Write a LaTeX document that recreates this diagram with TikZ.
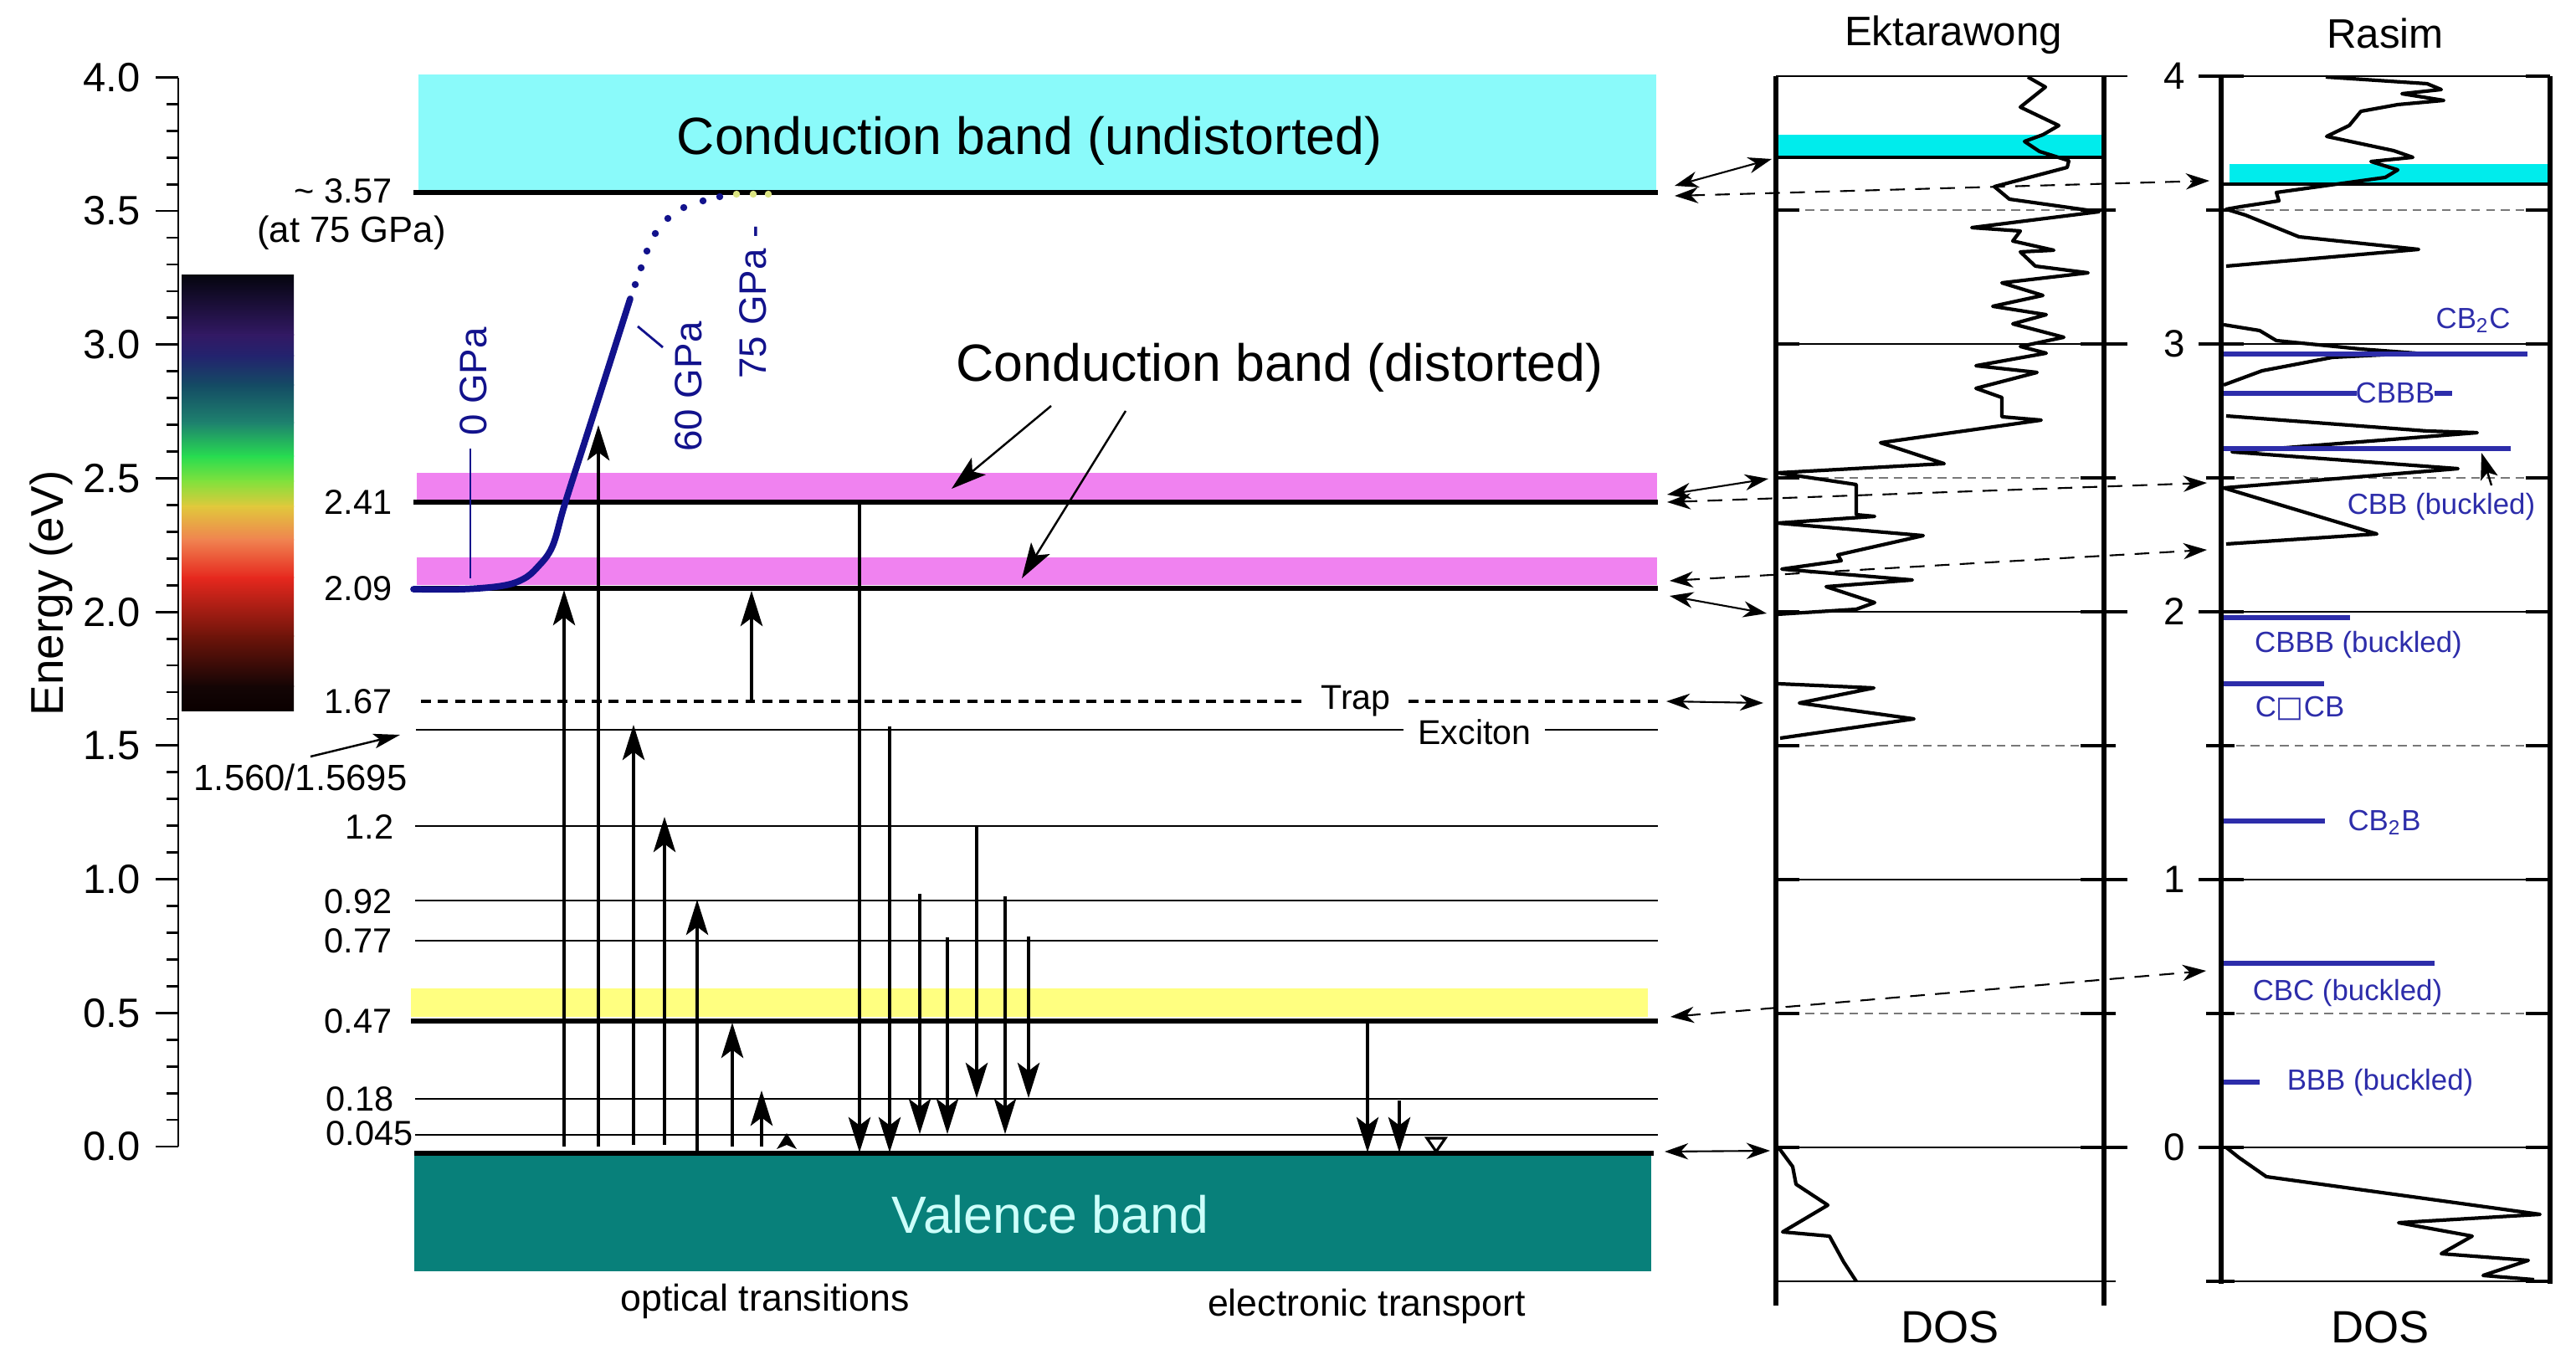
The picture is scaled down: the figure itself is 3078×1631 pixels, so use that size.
\documentclass[tikz,border=0pt]{standalone}
\usepackage{fontspec}
\setmainfont{Liberation Sans}
\newfontfamily\djv{DejaVu Sans}
\usetikzlibrary{arrows.meta}
\definecolor{cyanM}{RGB}{138,250,250}
\definecolor{cyanR}{RGB}{0,236,236}
\definecolor{pinkB}{RGB}{240,130,240}
\definecolor{yelB}{RGB}{255,255,128}
\definecolor{tealB}{RGB}{8,128,122}
\definecolor{valT}{RGB}{205,255,250}
\definecolor{navyC}{RGB}{18,18,140}
\definecolor{blueL}{RGB}{45,45,170}
\definecolor{dotY}{RGB}{220,228,130}
\definecolor{gridG}{RGB}{120,120,120}
\definecolor{cb0}{RGB}{5,5,15}
\definecolor{cb1}{RGB}{50,25,100}
\definecolor{cb2}{RGB}{35,35,110}
\definecolor{cb3}{RGB}{20,75,100}
\definecolor{cb4}{RGB}{30,130,110}
\definecolor{cb5}{RGB}{40,220,80}
\definecolor{cb6}{RGB}{130,225,60}
\definecolor{cb7}{RGB}{225,200,60}
\definecolor{cb8}{RGB}{240,130,80}
\definecolor{cb9}{RGB}{230,40,30}
\definecolor{cb10}{RGB}{110,20,10}
\definecolor{cb11}{RGB}{20,5,5}
\definecolor{cb12}{RGB}{10,0,0}
\newcommand{\myfs}[1]{\fontsize{#1}{#1}\selectfont}
\begin{document}
\begin{tikzpicture}[x=0.01cm,y=-0.01cm,
  thickline/.style={line width=1.7pt},
  thinline/.style={line width=0.7pt},
  trans/.style={line width=0.9pt,-{Stealth[length=12pt,width=7.5pt,inset=2.8pt]}},
  lnk/.style={line width=0.6pt,{Stealth[length=8pt,width=5.5pt,inset=2.5pt]}-{Stealth[length=8pt,width=5.5pt,inset=2.5pt]}},
  dlnk/.style={lnk,dash pattern=on 5pt off 3.5pt},
  gridd/.style={gridG,line width=0.5pt,dash pattern=on 3pt off 2pt},
  gridline/.style={line width=0.6pt},
  stub/.style={line width=1.3pt},
  frameV/.style={line width=1.7pt},
  lvl/.style={inner sep=0pt,anchor=east,font=\myfs{11.8pt}},
  axnum/.style={inner sep=0pt,anchor=east,font=\myfs{13.9pt}},
  bigtxt/.style={inner sep=0pt,font=\myfs{17.8pt}},
  gpa/.style={inner sep=0pt,rotate=90,text=navyC,font=\myfs{13pt}},
  bl/.style={inner sep=0pt,text=blueL,font=\myfs{9.9pt}},
  blline/.style={blueL,line width=1.6pt},
  dos/.style={line width=1.2pt,line join=round}
]
\useasboundingbox (0,0) rectangle (3078,1631);
\fill[white] (0,0) rectangle (3078,1631);

% ---------- left energy axis ----------
\draw[line width=0.8pt] (213,93) -- (213,1370);
\foreach \e/\t [count=\i] in {0/0.0,0.5/0.5,1/1.0,1.5/1.5,2/2.0,2.5/2.5,3/3.0,3.5/3.5,4/4.0}{
  \pgfmathsetmacro\yy{1370-319.4*\e}
  \draw[line width=0.8pt] (186,\yy) -- (213,\yy);
  \node[axnum] (ax\i) at (168,\yy) {\t};
}
\foreach \k in {1,...,39}{
  \pgfmathsetmacro\yy{1370-31.94*\k}
  \draw[line width=0.8pt] (199,\yy) -- (213,\yy);
}
\node[rotate=90,inner sep=0pt,font=\myfs{15.6pt}] (ylab) at (61,709) {Energy (eV)};

% ---------- colour bar ----------
\foreach \ya/\ca/\yb/\cbb in {329/cb0/400/cb1,400/cb1/425/cb2,425/cb2/460/cb3,460/cb3/505/cb4,505/cb4/545/cb5,545/cb5/575/cb6,575/cb6/605/cb7,605/cb7/645/cb8,645/cb8/690/cb9,690/cb9/760/cb10,760/cb10/820/cb11,820/cb11/849/cb12}{
  \shade[top color=\ca,bottom color=\cbb] (217,\ya) rectangle (351,\yb+1);
}

% ---------- bands ----------
\fill[cyanM] (500,89) rectangle (1979,230);
\fill[pinkB] (498,565) rectangle (1980,597);
\fill[pinkB] (498,666) rectangle (1980,699);
\fill[yelB] (491,1181) rectangle (1969,1215);
\fill[tealB] (495,1379) rectangle (1973,1519);

\node[bigtxt] (cbu) at (1230,168) {Conduction band (undistorted)};
\node[bigtxt,text=valT] (vb) at (1255,1451) {Valence band};
\node[bigtxt] (cbd) at (1529,439) {Conduction band (distorted)};

% level lines
\draw[thickline] (494,230) -- (1981,230);
\draw[thickline] (494,600) -- (1981,600);
\draw[thickline] (494,703) -- (1981,703);
\draw[thickline] (491,1220) -- (1981,1220);
\draw[thickline] (495,1378) -- (1976,1378);
\draw[thinline] (497,872) -- (1677,872);
\draw[thinline] (1846,872) -- (1981,872);
\foreach \yy in {987,1076,1124,1313,1356}{
  \draw[thinline] (496,\yy) -- (1981,\yy);
}
\draw[line width=0.9pt,dash pattern=on 3.4pt off 2.4pt] (503,838) -- (1563,838);
\draw[line width=0.9pt,dash pattern=on 3.4pt off 2.4pt] (1683,838) -- (1981,838);
\node[inner sep=0pt,font=\myfs{11.7pt}] (trap) at (1620,838) {Trap};
\node[inner sep=0pt,font=\myfs{11.7pt}] (exc) at (1762,875) {Exciton};

% level labels
\node[lvl] (l357) at (469,228) {\textasciitilde\ 3.57};
\node[inner sep=0pt,font=\myfs{12.4pt}] (l75) at (420,278) {(at 75 GPa)};
\node[lvl] (l241) at (469,600) {2.41};
\node[lvl] (l209) at (469,703) {2.09};
\node[lvl] (l167) at (469,838) {1.67};
\node[inner sep=0pt,font=\myfs{12.4pt}] (l156) at (359,929) {1.560/1.5695};
\node[lvl] (l12) at (471,988) {1.2};
\node[lvl] (l092) at (469,1077) {0.92};
\node[lvl] (l077) at (469,1124) {0.77};
\node[lvl] (l047) at (469,1220) {0.47};
\node[lvl] (l018) at (471,1313) {0.18};
\node[lvl] (l0045) at (494,1354) {0.045};
\coordinate (exA) at (371,904);
\coordinate (exB) at (478,878);
\draw[line width=0.7pt,-{Stealth[length=9pt,width=5pt,inset=2pt]}] (exA) -- (exB);

% ---------- pressure curve ----------
\draw[navyC,line width=2.2pt,line cap=round] plot[smooth,tension=0.6] coordinates {(494,704) (553,704) (600,700) (625,692) (642,678) (660,653) (675,602) (706,505) (753,357)};
\foreach \p in {(759,340),(766,320),(773,300),(783,279),(798,261),(817,248),(840,240),(860,235)}{
  \fill[navyC] \p circle (1.2pt);
}
\foreach \p in {(880,232),(900,232),(918,232)}{
  \fill[dotY] \p circle (1.2pt);
}
\node[gpa] (g0) at (566,456) {0 GPa};
\draw[navyC,line width=0.6pt] (562,536) -- (562,691);
\node[gpa] (g60) at (823,462) {60 GPa};
\draw[navyC,line width=0.8pt] (762,390) -- (792,415);
\node[gpa] (g75) at (900,361) {75 GPa -};

% arrows from distorted label
\draw[trans,line width=0.7pt] (1256,485) -- (1137,584);
\draw[trans,line width=0.7pt] (1345,491) -- (1221,691);

% ---------- transitions ----------
\draw[trans] (674,1370) -- (674,705);
\draw[trans,line width=1.1pt] (715,1370) -- (715,508);
\draw[trans] (757,1368) -- (757,866);
\draw[trans] (794,1368) -- (794,976);
\draw[trans] (833,1377) -- (833,1075);
\draw[trans] (875,1370) -- (875,1222);
\draw[trans] (910,1370) -- (910,1303);
\fill (928,1373) -- (940,1354) -- (952,1373) -- (940,1368) -- cycle;
\draw[trans] (898,840) -- (898,706);
\draw[trans] (1027,602) -- (1027,1377);
\draw[trans] (1063,868) -- (1063,1377);
\draw[trans] (1099,1068) -- (1099,1355);
\draw[trans] (1132,1120) -- (1132,1355);
\draw[trans] (1167,988) -- (1167,1312);
\draw[trans] (1201,1071) -- (1201,1355);
\draw[trans] (1229,1119) -- (1229,1312);
\draw[trans] (1634,1223) -- (1634,1377);
\draw[trans] (1672,1315) -- (1672,1377);
\draw[line width=0.9pt] (1705,1360) -- (1727,1360) -- (1716,1376) -- cycle;

\node[inner sep=0pt,font=\myfs{12.7pt}] (opt) at (914,1555) {optical transitions};
\node[inner sep=0pt,font=\myfs{12.7pt}] (etr) at (1633,1561) {electronic transport};

% ---------- Ektarawong panel ----------
\node[inner sep=0pt,font=\myfs{14pt}] (ekt) at (2334,42) {Ektarawong};
\fill[cyanR] (2122,161) rectangle (2514,187);
\draw[line width=1.2pt] (2122,188) -- (2514,188);
\draw[gridline] (2122,91) -- (2542,91);
\draw[gridline] (2122,1531) -- (2528,1531);
\foreach \e in {0,1,2,3}{
  \pgfmathsetmacro\yy{1371-320*\e}
  \draw[gridline] (2122,\yy) -- (2542,\yy);
  \draw[stub] (2122,\yy) -- (2150,\yy);
  \draw[stub] (2486,\yy) -- (2542,\yy);
}
\foreach \e in {0.5,1.5,2.5,3.5}{
  \pgfmathsetmacro\yy{1371-320*\e}
  \draw[gridd] (2122,\yy) -- (2514,\yy);
  \draw[stub] (2122,\yy) -- (2150,\yy);
  \draw[stub] (2486,\yy) -- (2528,\yy);
}
\draw[dos] plot coordinates {(2423,92) (2444,104) (2414,128) (2460,150) (2441,161) (2419,169) (2437,181) (2472,192) (2470,200) (2383,223) (2401,238) (2508,253) (2356,272) (2414,276) (2405,288) (2454,299) (2414,301) (2432,318) (2495,326) (2392,338) (2441,353) (2381,366) (2445,376) (2405,387) (2466,403) (2414,414) (2445,422) (2361,437) (2434,445) (2361,464) (2392,475) (2392,498) (2439,502) (2247,529) (2323,554) (2124,565) (2218,579) (2218,615) (2240,617) (2124,625) (2298,640) (2196,663) (2200,670) (2129,680) (2285,693) (2182,701) (2240,720) (2218,728) (2124,734)};
\draw[dos] plot coordinates {(2125,817) (2239,822) (2150,840) (2287,859) (2127,882)};
\draw[dos] plot coordinates {(2125,1371) (2142,1394) (2146,1415) (2184,1440) (2130,1472) (2186,1477) (2203,1508) (2218,1531)};
\draw[frameV] (2122,91) -- (2122,1560);
\draw[frameV] (2514,91) -- (2514,1560);
\node[inner sep=0pt,font=\myfs{15.4pt}] (dos1) at (2330,1586) {DOS};

% ---------- Rasim panel ----------
\node[inner sep=0pt,font=\myfs{14pt}] (ras) at (2850,40) {Rasim};
\fill[cyanR] (2664,196) rectangle (3047,218);
\draw[line width=1.2pt] (2654,220) -- (3050,220);
\draw[gridline] (2627,91) -- (3047,91);
\draw[gridline] (2654,1531) -- (3047,1531);
\foreach \e/\t [count=\i] in {0/0,1/1,2/2,3/3,4/4}{
  \pgfmathsetmacro\yy{1371-320*\e}
  \draw[gridline] (2627,\yy) -- (3047,\yy);
  \draw[stub] (2627,\yy) -- (2681,\yy);
  \draw[stub] (3018,\yy) -- (3047,\yy);
  \node[inner sep=0pt,font=\myfs{13pt}] (rax\i) at (2598,\yy) {\t};
}
\foreach \e in {-0.5,0.5,1.5,2.5,3.5}{
  \pgfmathsetmacro\yy{1371-320*\e}
  \draw[gridd] (2654,\yy) -- (3047,\yy);
  \draw[stub] (2636,\yy) -- (2670,\yy);
  \draw[stub] (3018,\yy) -- (3047,\yy);
}
\draw[gridline] (2636,1531) -- (3047,1531);
\draw[dos] plot coordinates {(2779,92) (2900,100) (2917,107) (2870,112) (2920,120) (2865,125) (2821,133) (2807,150) (2780,163) (2860,180) (2883,188) (2833,193) (2865,203) (2850,212) (2720,230) (2723,240) (2677,247) (2660,250) (2683,257) (2747,283) (2890,298) (2660,318)};
\draw[dos] plot coordinates {(2657,388) (2700,395) (2720,407) (2820,417) (2887,422) (2787,427) (2703,443) (2657,460)};
\draw[dos] plot coordinates {(2660,497) (2900,515) (2960,517) (2667,540) (2937,560) (2657,583) (2840,638) (2660,650)};
\draw[dos] plot coordinates {(2660,1371) (2675,1383) (2708,1406) (3035,1451) (2866,1461) (2954,1477) (2917,1498) (3021,1506) (2967,1524) (3028,1529)};
\draw[frameV] (2654,91) -- (2654,1534);
\draw[frameV] (3047,91) -- (3047,1534);
\node[inner sep=0pt,font=\myfs{15.4pt}] (dos2) at (2844,1586) {DOS};

% blue levels
\draw[blline] (2657,423) -- (3020,423);
\node[bl] (r1) at (2955,383) {CB\textsubscript{2}C};
\draw[blline] (2657,470) -- (2816,470);
\node[bl] (r2) at (2862,470) {CBBB};
\draw[blline] (2909,470) -- (2930,470);
\draw[blline] (2657,536) -- (3000,536);
\node[bl] (r3) at (2917,605) {CBB (buckled)};
\draw[line width=0.7pt,-{Stealth[length=9pt,width=6pt,inset=2pt]}] (2977,580) -- (2965,541);
\draw[blline] (2657,738) -- (2808,738);
\node[bl] (r4) at (2818,770) {CBBB (buckled)};
\draw[blline] (2657,817) -- (2777,817);
\node[bl] (r5) at (2748,846) {C{\djv □}CB};
\draw[blline] (2657,981) -- (2778,981);
\node[bl] (r6) at (2849,983) {CB\textsubscript{2}B};
\draw[blline] (2657,1151) -- (2909,1151);
\node[bl] (r7) at (2805,1186) {CBC (buckled)};
\draw[blline] (2657,1293) -- (2700,1293);
\node[bl] (r8) at (2844,1293) {BBB (buckled)};

% ---------- links between panels ----------
\coordinate (m357a) at (2001,222); \coordinate (e357) at (2117,190);
\coordinate (m357b) at (2001,234); \coordinate (r357) at (2640,216);
\coordinate (m241a) at (1992,591); \coordinate (e241) at (2113,572);
\coordinate (m241b) at (1992,600); \coordinate (r241) at (2637,577);
\coordinate (m209a) at (1995,694); \coordinate (r209) at (2637,657);
\coordinate (m209b) at (1995,712); \coordinate (e209) at (2111,733);
\coordinate (m167) at (1991,838); \coordinate (e167) at (2107,840);
\coordinate (m047) at (1996,1215); \coordinate (r047) at (2636,1160);
\coordinate (m000) at (1989,1376); \coordinate (e000) at (2115,1375);
\draw[lnk] (m357a) -- (e357);
\draw[dlnk] (m357b) -- (r357);
\draw[lnk] (m241a) -- (e241);
\draw[dlnk] (m241b) -- (r241);
\draw[dlnk] (m209a) -- (r209);
\draw[lnk] (m209b) -- (e209);
\draw[lnk] (m167) -- (e167);
\draw[dlnk] (m047) -- (r047);
\draw[lnk] (m000) -- (e000);
\end{tikzpicture}
\end{document}
